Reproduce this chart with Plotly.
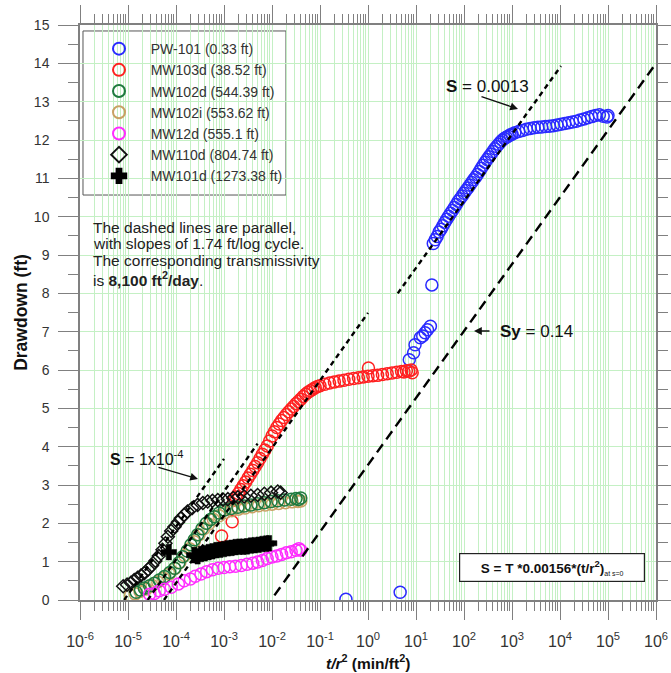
import plotly.graph_objects as go

# ---------------- data (log10 of t/r^2, drawdown ft) ----------------
pw101_logx = [-0.46, 0.67, 0.86, 0.95, 0.98, 1.09, 1.14, 1.19, 1.24, 1.30, 1.33,
              1.36, 1.40, 1.44, 1.48, 1.52, 1.56, 1.60, 1.64, 1.68, 1.72, 1.76, 1.80,
              1.84, 1.88, 1.92, 1.96, 2.00, 2.04, 2.08, 2.12, 2.16, 2.20, 2.24, 2.28,
              2.32, 2.36, 2.40, 2.44, 2.48, 2.52, 2.56, 2.60, 2.64, 2.68, 2.72, 2.76,
              2.80, 2.84, 2.88, 2.92, 2.96, 3.00, 3.06, 3.14,
              3.22, 3.30, 3.38, 3.46, 3.54, 3.62, 3.70, 3.78, 3.86, 3.94, 4.02, 4.10,
              4.18, 4.26, 4.34, 4.42, 4.50, 4.58, 4.66, 4.74, 4.82, 4.90, 4.98, 5.00]
pw101_y = [0.02, 0.20, 6.27, 6.45, 6.66, 6.84, 6.89, 6.97, 7.05, 7.14, 8.22,
           9.30, 9.40, 9.48, 9.60, 9.67, 9.76, 9.85, 9.93, 10.01, 10.09, 10.16, 10.24,
           10.32, 10.40, 10.47, 10.54, 10.61, 10.68, 10.75, 10.82, 10.89, 10.96, 11.03, 11.10,
           11.18, 11.26, 11.34, 11.42, 11.49, 11.56, 11.63, 11.70, 11.77, 11.83, 11.89, 11.95,
           12.00, 12.04, 12.07, 12.10, 12.13, 12.15, 12.19, 12.22,
           12.25, 12.28, 12.30, 12.32, 12.33, 12.34, 12.35, 12.36, 12.37, 12.39, 12.41, 12.43,
           12.45, 12.47, 12.49, 12.52, 12.55, 12.58, 12.61, 12.64, 12.66, 12.62, 12.60, 12.64]

mw103d_logx = [-3.05, -2.83, -2.80, -2.75, -2.70, -2.65, -2.60, -2.55, -2.50, -2.45, -2.40,
               -2.35, -2.30, -2.25, -2.20, -2.15, -2.10, -2.05, -2.00, -1.95, -1.90, -1.85,
               -1.80, -1.75, -1.70, -1.65, -1.60, -1.55, -1.50, -1.45, -1.40, -1.35, -1.30,
               -1.25, -1.20, -1.15, -1.10, -1.05, -1.00,
               -0.90, -0.80, -0.70, -0.60, -0.50, -0.40, -0.30, -0.20, -0.10, 0.00, 0.01,
               0.10, 0.20, 0.30, 0.40, 0.50, 0.60, 0.70, 0.75, 0.80, 0.85, 0.90, 0.92]
mw103d_y = [1.67, 2.04, 2.60, 2.69, 2.78, 2.88, 2.98, 3.08, 3.18, 3.28, 3.38,
            3.48, 3.58, 3.69, 3.80, 3.91, 4.02, 4.15, 4.28, 4.39, 4.50, 4.59,
            4.68, 4.76, 4.84, 4.91, 4.98, 5.05, 5.12, 5.18, 5.24, 5.31, 5.37,
            5.42, 5.46, 5.50, 5.54, 5.57, 5.59,
            5.63, 5.66, 5.69, 5.71, 5.73, 5.76, 5.78, 5.80, 5.82, 5.84, 6.05,
            5.85, 5.86, 5.88, 5.90, 5.92, 5.94, 5.96, 5.95, 5.98, 5.97, 6.00, 5.93]

mw102d_logx = [-4.83, -4.74, -4.66, -4.55, -4.45, -4.35, -4.24, -4.13, -4.03, -3.94, -3.86,
               -3.77, -3.69, -3.62, -3.55, -3.46, -3.37, -3.28, -3.20, -3.10, -2.99, -2.85,
               -2.71, -2.58, -2.44, -2.30, -2.16, -2.02, -1.88, -1.74, -1.60, -1.50, -1.45, -1.40]
mw102d_y = [0.20, 0.26, 0.31, 0.37, 0.44, 0.52, 0.61, 0.72, 0.83, 0.97, 1.13,
            1.28, 1.44, 1.57, 1.70, 1.86, 2.00, 2.10, 2.17, 2.27, 2.35, 2.39,
            2.42, 2.45, 2.48, 2.51, 2.54, 2.57, 2.59, 2.61, 2.63, 2.65, 2.62, 2.66]

mw102i_logx = [-4.95, -4.85, -4.75, -4.62, -4.50, -4.38, -4.26, -4.14, -4.02, -3.92, -3.82,
               -3.72, -3.62, -3.52, -3.42, -3.32, -3.22, -3.10, -2.98, -2.84, -2.70, -2.56,
               -2.42, -2.28, -2.14, -2.00, -1.86, -1.72, -1.58, -1.46, -1.40]
mw102i_y = [0.12, 0.16, 0.22, 0.29, 0.38, 0.47, 0.57, 0.68, 0.82, 0.98, 1.16,
            1.34, 1.52, 1.70, 1.86, 1.98, 2.10, 2.20, 2.28, 2.33, 2.37, 2.40,
            2.43, 2.46, 2.48, 2.50, 2.52, 2.54, 2.56, 2.57, 2.58]

mw12d_logx = [-4.55, -4.45, -4.35, -4.24, -4.10, -3.95, -3.83, -3.70, -3.60, -3.48, -3.36,
              -3.24, -3.12, -3.00, -2.88, -2.76, -2.64, -2.52, -2.40, -2.30, -2.20, -2.10,
              -2.00, -1.90, -1.80, -1.70, -1.60, -1.50, -1.44, -1.40]
mw12d_y = [0.15, 0.17, 0.24, 0.28, 0.33, 0.42, 0.50, 0.55, 0.62, 0.68, 0.74,
           0.79, 0.83, 0.85, 0.87, 0.88, 0.90, 0.93, 0.96, 0.99, 1.03, 1.08,
           1.12, 1.15, 1.19, 1.23, 1.26, 1.30, 1.34, 1.30]

mw110d_logx = [-5.10, -5.02, -4.94, -4.87, -4.80, -4.73, -4.66, -4.58, -4.50, -4.43, -4.36,
               -4.28, -4.22, -4.17, -4.10, -4.03, -3.96, -3.90, -3.83, -3.76, -3.66, -3.55,
               -3.44, -3.34, -3.24, -3.13, -3.02, -2.92, -2.81, -2.71, -2.58, -2.44, -2.30,
               -2.16, -2.02, -1.88, -1.82]
mw110d_y = [0.36, 0.40, 0.45, 0.52, 0.58, 0.64, 0.70, 0.80, 0.90, 1.02, 1.15,
            1.31, 1.48, 1.65, 1.80, 1.91, 2.03, 2.13, 2.22, 2.31, 2.40, 2.48,
            2.53, 2.57, 2.59, 2.61, 2.62, 2.63, 2.66, 2.68, 2.70, 2.72, 2.74,
            2.77, 2.80, 2.83, 2.80]

mw101d_logx = [-4.15, -3.62, -3.55, -3.48, -3.40, -3.32, -3.24, -3.16, -3.08, -3.00, -2.92,
               -2.84, -2.76, -2.68, -2.60, -2.52, -2.44, -2.36, -2.28, -2.20, -2.12, -2.06]
mw101d_y = [1.25, 1.17, 1.14, 1.20, 1.22, 1.25, 1.27, 1.30, 1.31, 1.33, 1.35,
            1.36, 1.38, 1.39, 1.39, 1.40, 1.42, 1.43, 1.44, 1.46, 1.47, 1.48]

# dashed straight-line fits (log10 t/r^2 endpoints, drawdown endpoints)
fit_lines_logx = [[-5.08, -3.00], [-4.59, -2.30], [-4.25, 0.00], [0.62, 4.02], [-1.95, 6.00]]
fit_lines_y = [[0.0, 3.68], [0.0, 4.08], [0.0, 7.49], [8.0, 13.93], [0.12, 14.0]]
fit_lines_long = [False, False, False, False, True]

series_names = ["PW-101 (0.33 ft)", "MW103d (38.52 ft)", "MW102d (544.39 ft)",
                "MW102i (553.62 ft)", "MW12d (555.1 ft)", "MW110d (804.74 ft)",
                "MW101d (1273.38 ft)"]

x_tick_exponents = list(range(-6, 7))

note_lines = ["The dashed lines are parallel,",
              "with slopes of 1.74 ft/log cycle.",
              "The corresponding transmissivity",
              "is <b>8,100 ft<sup>2</sup>/day</b>."]

# ---------------- figure ----------------
def tx(v):
    return [10 ** a for a in v]

NB = "\u00a0" * 3
fig = go.Figure()
specs = [
    (pw101_logx, pw101_y, "circle-open", "#2a2aff", 12, 1.5),
    (mw103d_logx, mw103d_y, "circle-open", "#ff2020", 12, 1.5),
    (mw102d_logx, mw102d_y, "circle-open", "#1f7a3f", 12, 1.5),
    (mw102i_logx, mw102i_y, "circle-open", "#c9a064", 12, 1.5),
    (mw12d_logx, mw12d_y, "circle-open", "#ff2cff", 12, 1.5),
    (mw110d_logx, mw110d_y, "diamond-open", "#111111", 10, 1.5),
]
order = [0, 1, 3, 2, 4, 5]
for i in order:
    lx, ly, sym, col, sz, lw = specs[i]
    fig.add_trace(go.Scatter(
        x=tx(lx), y=ly, mode="markers", name=NB + series_names[i], legendrank=i + 1,
        marker=dict(symbol=sym, color=col, size=sz, line=dict(color=col, width=lw))))
fig.add_trace(go.Scatter(
    x=tx(mw101d_logx), y=mw101d_y, mode="markers", name=NB + series_names[6], legendrank=7,
    marker=dict(symbol="cross", color="#000000", size=13, line=dict(color="#000000", width=0.5))))

for lx, ly, lng in zip(fit_lines_logx, fit_lines_y, fit_lines_long):
    fig.add_trace(go.Scatter(
        x=tx(lx), y=ly, mode="lines", showlegend=False, hoverinfo="skip",
        line=dict(color="#000000", width=2.4, dash="10px,6px" if lng else "5px,4px")))

green = "#c4f0c4"
axis_grey = "#808080"
minor_x = [k * 10.0 ** e for e in range(-6, 6) for k in range(2, 10)]

fig.update_xaxes(
    type="log", range=[-6, 6], automargin=False,
    tickmode="array", tickvals=[10.0 ** e for e in x_tick_exponents],
    ticktext=["10<sup>%d</sup>" % e for e in x_tick_exponents],
    ticks="outside", ticklen=18, tickwidth=1.3, tickcolor=axis_grey, ticklabelstandoff=8,
    showline=True, linecolor=axis_grey, linewidth=1.5, mirror="ticks",
    showgrid=True, gridcolor=green, gridwidth=1, zeroline=False,
    tickfont=dict(family="Arial", size=16, color="#333333"),
    minor=dict(tickmode="array", tickvals=minor_x, ticks="outside", ticklen=9,
               tickcolor=axis_grey, tickwidth=1.2, showgrid=True, gridcolor=green, gridwidth=1),
)
fig.update_yaxes(
    range=[0, 15], dtick=1, tick0=0, automargin=False,
    ticks="outside", ticklen=20, tickwidth=1.3, tickcolor=axis_grey, ticklabelstandoff=6,
    showline=True, linecolor=axis_grey, linewidth=1.5, mirror="ticks",
    showgrid=True, gridcolor=green, gridwidth=1, zeroline=False,
    tickfont=dict(family="Arial", size=14, color="#333333"),
    minor=dict(dtick=0.5, ticks="outside", ticklen=10, tickcolor=axis_grey, tickwidth=1.2,
               showgrid=False),
    title=dict(text="<b>Drawdown (ft)</b>", font=dict(family="Arial", size=17.5, color="#111111"),
               standoff=2),
)

fig.update_layout(
    width=671, height=673,
    margin=dict(l=80, r=15, t=25, b=73),
    paper_bgcolor="white", plot_bgcolor="white",
    showlegend=True,
    legend=dict(x=0.033, y=0.986, xanchor="left", yanchor="top",
                bgcolor="rgba(0,0,0,0)", borderwidth=0,
                font=dict(family="Arial", size=14, color="#333333"),
                tracegroupgap=0, itemsizing="constant"),
    font=dict(family="Arial"),
)

# legend frame and note background (white boxes over the grid)
fig.add_shape(type="rect", xref="paper", yref="paper", x0=0.0052, x1=0.3576, y0=0.7043, y1=0.9896,
              fillcolor="white", line=dict(color="#555555", width=1), layer="between")
fig.add_shape(type="rect", xref="paper", yref="paper", x0=0.0069, x1=0.434, y0=0.527, y1=0.6835,
              fillcolor="white", line=dict(width=0), layer="between")

annos = [
    # x-axis title
    dict(x=0.5, y=-0.1078, xanchor="center", yanchor="middle", showarrow=False,
         text="<b><i>t/r</i><sup>2</sup> (min/ft<sup>2</sup>)</b>",
         font=dict(family="Arial", size=15.5, color="#111111")),
    dict(x=0.7604, y=0.8539, ax=-38, ay=-13, showarrow=True, arrowhead=2, arrowsize=1.2,
         arrowwidth=1.3, arrowcolor="#111111", text=""),
    dict(x=0.7066, y=0.8939, xanchor="center", yanchor="middle", text="<b>S</b> = 0.0013",
         showarrow=False, font=dict(size=17, color="#111111")),
    dict(x=0.684, y=0.4678, ax=17, ay=0, showarrow=True, arrowhead=2, arrowsize=1.2,
         arrowwidth=1.3, arrowcolor="#111111", text=""),
    dict(x=0.726, y=0.4678, xanchor="left", yanchor="middle", text="<b>Sy</b> = 0.14",
         showarrow=False, font=dict(size=17, color="#111111")),
    dict(x=0.2049, y=0.2104, ax=-41, ay=-12, showarrow=True, arrowhead=2, arrowsize=1.2,
         arrowwidth=1.3, arrowcolor="#111111", text=""),
    dict(x=0.049, y=0.2470, xanchor="left", yanchor="middle", text="<b>S</b> = 1x10<sup>-4</sup>",
         showarrow=False, font=dict(size=16, color="#111111")),
    dict(x=0.8194, y=0.0565, xanchor="center", yanchor="middle", showarrow=False,
         bgcolor="white", bordercolor="#222222", borderwidth=1.2, width=180, height=23, borderpad=2,
         text="<b>S = T *0.00156*(t/r<sup>2</sup>)</b><sub><span style='font-size:7px'>at s=0</span></sub>",
         font=dict(size=13.5, color="#111111")),
]
note_y = [0.6480, 0.6200, 0.5910, 0.5580]
for txt, yy in zip(note_lines, note_y):
    annos.append(dict(x=0.0185, y=yy, xanchor="left", yanchor="middle", showarrow=False,
                      text=txt, font=dict(size=15.5, color="#222222")))
for a in annos:
    a.setdefault("xref", "paper")
    a.setdefault("yref", "paper")
    if "ax" in a:
        a["axref"] = "pixel"
        a["ayref"] = "pixel"
    fig.add_annotation(**a)

fig.write_html("out.html")
